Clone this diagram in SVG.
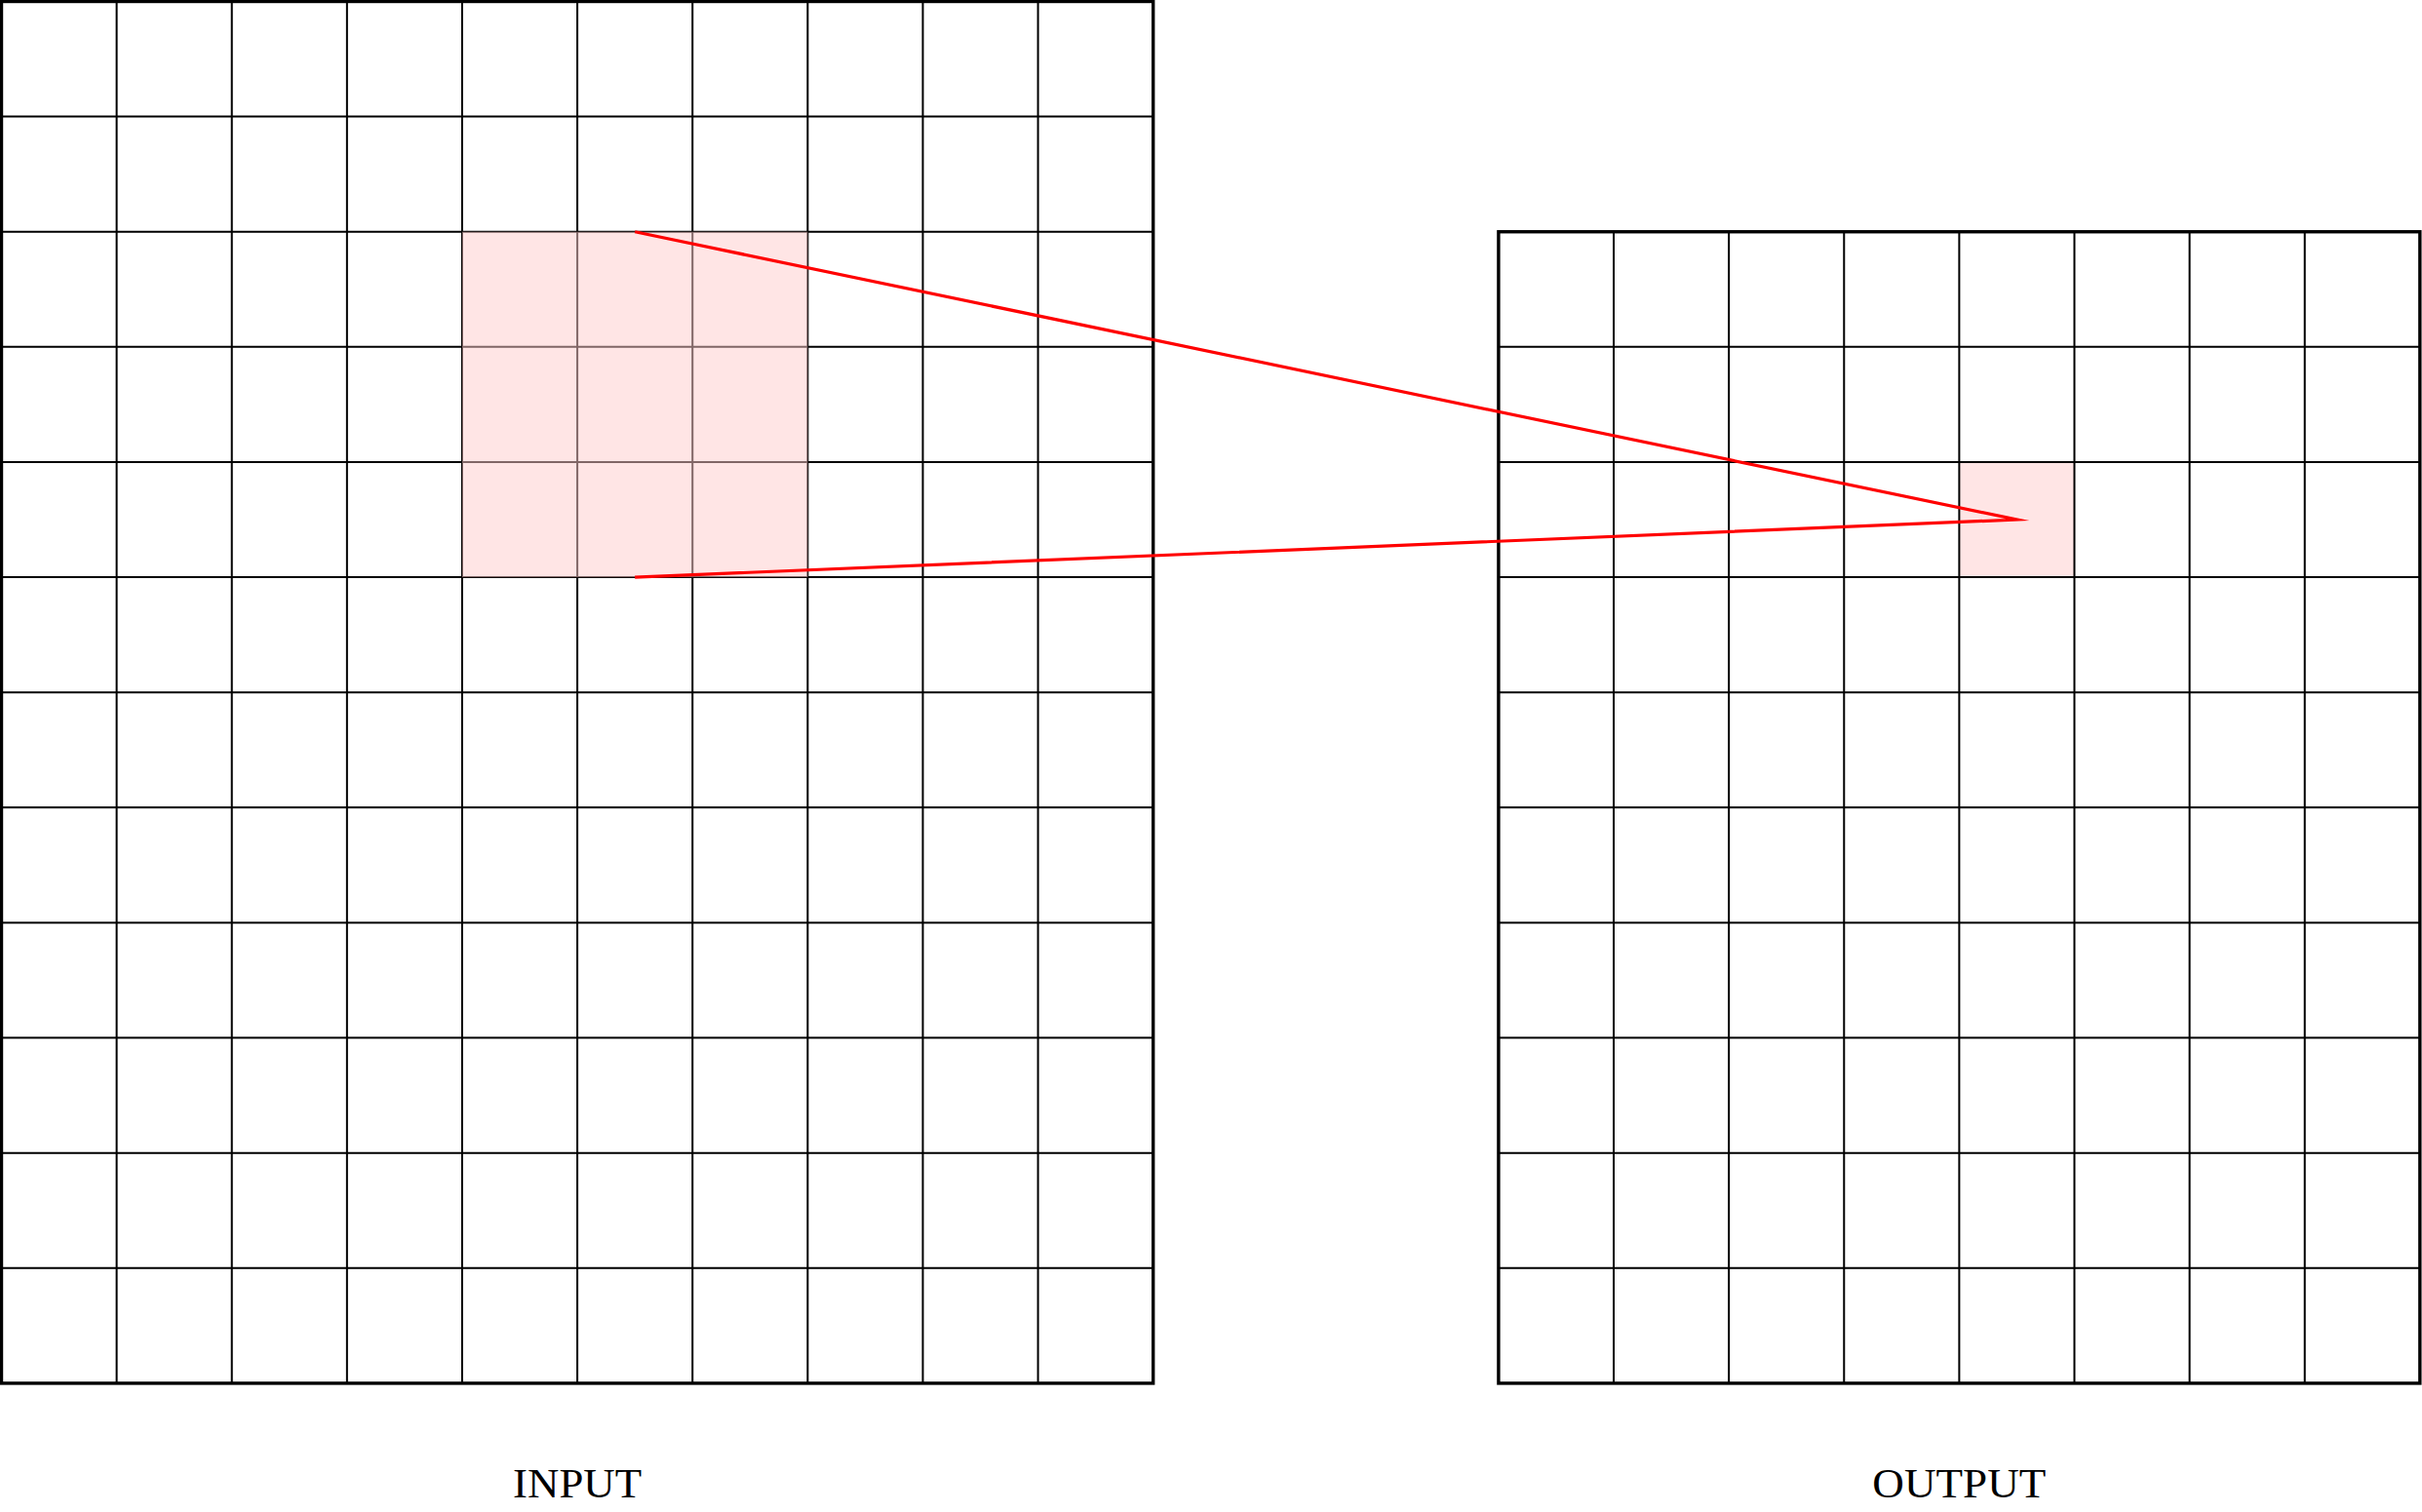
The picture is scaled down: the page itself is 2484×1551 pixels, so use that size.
<svg xmlns="http://www.w3.org/2000/svg" width="2484" height="1551" viewBox="0 0 2484 1551">
<style>
.grid{fill:none;stroke:#000;stroke-width:2}
.border{fill:none;stroke:#000;stroke-width:3.4}
.hl{fill:#FFCCCC;opacity:0.5}
.lbl{font-family:"Liberation Serif","DejaVu Serif",serif;font-size:42px;fill:#000;text-anchor:middle}
.conn{fill:none;stroke:#FF0000;stroke-width:3.2;stroke-linejoin:miter;stroke-miterlimit:10}
</style>
<rect width="2484" height="1551" fill="#fff"/>
<g id="input-grid">
<path class="grid" d="M119.62,1.5V1418.94M237.74,1.5V1418.94M355.86,1.5V1418.94M473.98,1.5V1418.94M592.1,1.5V1418.94M710.22,1.5V1418.94M828.34,1.5V1418.94M946.46,1.5V1418.94M1064.58,1.5V1418.94M1.5,119.62H1182.7M1.5,237.74H1182.7M1.5,355.86H1182.7M1.5,473.98H1182.7M1.5,592.1H1182.7M1.5,710.22H1182.7M1.5,828.34H1182.7M1.5,946.46H1182.7M1.5,1064.58H1182.7M1.5,1182.7H1182.7M1.5,1300.82H1182.7"/>
<rect class="border" x="1.5" y="1.5" width="1181.2" height="1417.44"/>
<rect class="hl" x="473.98" y="237.74" width="354.36" height="354.36"/>
<text class="lbl" x="592.1" y="1536" textLength="132" lengthAdjust="spacingAndGlyphs">INPUT</text>
</g>
<g id="output-grid">
<rect class="hl" x="2009.38" y="473.98" width="118.12" height="118.12"/>
<path class="grid" d="M1655.02,237.74V1418.94M1773.14,237.74V1418.94M1891.26,237.74V1418.94M2009.38,237.74V1418.94M2127.5,237.74V1418.94M2245.62,237.74V1418.94M2363.74,237.74V1418.94M1536.9,355.86H2481.86M1536.9,473.98H2481.86M1536.9,592.1H2481.86M1536.9,710.22H2481.86M1536.9,828.34H2481.86M1536.9,946.46H2481.86M1536.9,1064.58H2481.86M1536.9,1182.7H2481.86M1536.9,1300.82H2481.86"/>
<rect class="border" x="1536.9" y="237.74" width="944.96" height="1181.2"/>
<text class="lbl" x="2009.38" y="1536" textLength="178" lengthAdjust="spacingAndGlyphs">OUTPUT</text>
</g>
<g id="connectors">
<path class="conn" d="M651.16,237.74L2068.44,533.04L651.16,592.1"/>
</g>
</svg>
